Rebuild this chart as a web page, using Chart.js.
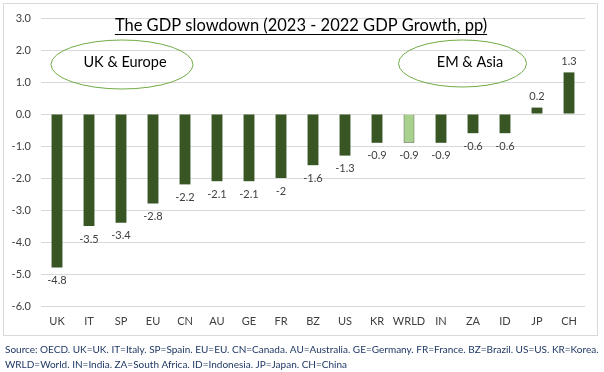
<!DOCTYPE html>
<html><head><meta charset="utf-8">
<script src="https://cdn.jsdelivr.net/npm/chart.js@4"></script>
<style>html,body{margin:0;padding:0;background:#fff}#wrap{width:604px;height:372px;position:relative}</style>
</head><body><div id="wrap"><canvas id="c" width="604" height="372"></canvas></div>
<script>
const categories = ["UK","IT","SP","EU","CN","AU","GE","FR","BZ","US","KR","WRLD","IN","ZA","ID","JP","CH"];
const gdpChange = [-4.8,-3.5,-3.4,-2.8,-2.2,-2.1,-2.1,-2,-1.6,-1.3,-0.9,-0.9,-0.9,-0.6,-0.6,0.2,1.3];
const valueLabels = ["-4.8","-3.5","-3.4","-2.8","-2.2","-2.1","-2.1","-2","-1.6","-1.3","-0.9","-0.9","-0.9","-0.6","-0.6","0.2","1.3"];
const titleText = "The GDP slowdown (2023 - 2022 GDP Growth, pp)";
const groupLabels = ["UK & Europe","EM & Asia"];
const sourceLines = ["Source: OECD. UK=UK. IT=Italy. SP=Spain. EU=EU. CN=Canada. AU=Australia. GE=Germany. FR=France. BZ=Brazil. US=US. KR=Korea.",
"WRLD=World. IN=India. ZA=South Africa. ID=Indonesia. JP=Japan. CH=China"];

const DARK="#375623", LIGHT="#A9D18E", FONT="Lato, 'Open Sans', sans-serif";

const deco = {
  id:"deco",
  beforeDraw(chart){
    const c=chart.ctx; c.save();
    c.fillStyle="#fff"; c.fillRect(0,0,chart.width,chart.height);
    c.strokeStyle="#d9d9d9"; c.lineWidth=1; c.strokeRect(3.5,3.5,594,332);
    c.restore();
  },
  afterDatasetsDraw(chart){
    const c=chart.ctx, meta=chart.getDatasetMeta(0);
    c.save();
    c.font="11px "+FONT; c.fillStyle="#404040"; c.textAlign="center"; c.textBaseline="middle";
    meta.data.forEach((b,i)=>{
      const v=gdpChange[i];
      const y = v<0 ? b.y+13 : b.y-11;
      c.fillText(valueLabels[i], b.x, y);
    });
    // title
    c.font="16.5px "+FONT; c.fillStyle="#000"; c.textBaseline="alphabetic";
    const tx=301, ty=31;
    c.fillText(titleText, tx, ty);
    const w=c.measureText(titleText).width;
    c.strokeStyle="#000"; c.lineWidth=1;
    c.beginPath(); c.moveTo(tx-w/2, ty+3.5); c.lineTo(tx+w/2, ty+3.5); c.stroke();
    // ellipses
    c.strokeStyle="#70AD47"; c.lineWidth=1;
    c.beginPath(); c.ellipse(122,64.5,71,24.5,0,0,Math.PI*2); c.stroke();
    c.beginPath(); c.ellipse(462.5,63.5,64,23.5,0,0,Math.PI*2); c.stroke();
    c.font="14.5px "+FONT; c.fillStyle="#000"; c.textBaseline="middle";
    c.fillText(groupLabels[0],125,62);
    c.fillText(groupLabels[1],470,62);
    // source
    c.font="10px "+FONT; c.fillStyle="#1F3864"; c.textAlign="left"; c.textBaseline="middle";
    c.fillText(sourceLines[0],5,350);
    c.fillText(sourceLines[1],5,365);
    c.restore();
  }
};

new Chart(document.getElementById("c"),{
  type:"bar",
  data:{labels:categories,datasets:[{
    data:gdpChange,
    backgroundColor:categories.map(k=>k==="WRLD"?LIGHT:DARK),
    borderColor:DARK, borderWidth:categories.map(k=>k==="WRLD"?1:0),
    categoryPercentage:1, barPercentage:0.34
  }]},
  options:{
    responsive:false, animation:false, devicePixelRatio:1,
    layout:{padding:{left:5,right:19,top:18,bottom:36}},
    plugins:{legend:{display:false},tooltip:{enabled:false},title:{display:false}},
    scales:{
      x:{grid:{display:false,drawTicks:false},border:{display:false},
         ticks:{padding:9,color:"#404040",font:{family:FONT,size:11},maxRotation:0,autoSkip:false},
         afterFit(s){s.height=30;}},
      y:{min:-6,max:3,grid:{color:"#d9d9d9",drawTicks:false},border:{display:false},
         ticks:{stepSize:1,padding:10,color:"#404040",font:{family:FONT,size:11},callback:v=>Number(v).toFixed(1)},
         afterFit(s){s.width=36;}}
    }
  },
  plugins:[deco]
});
</script></body></html>
